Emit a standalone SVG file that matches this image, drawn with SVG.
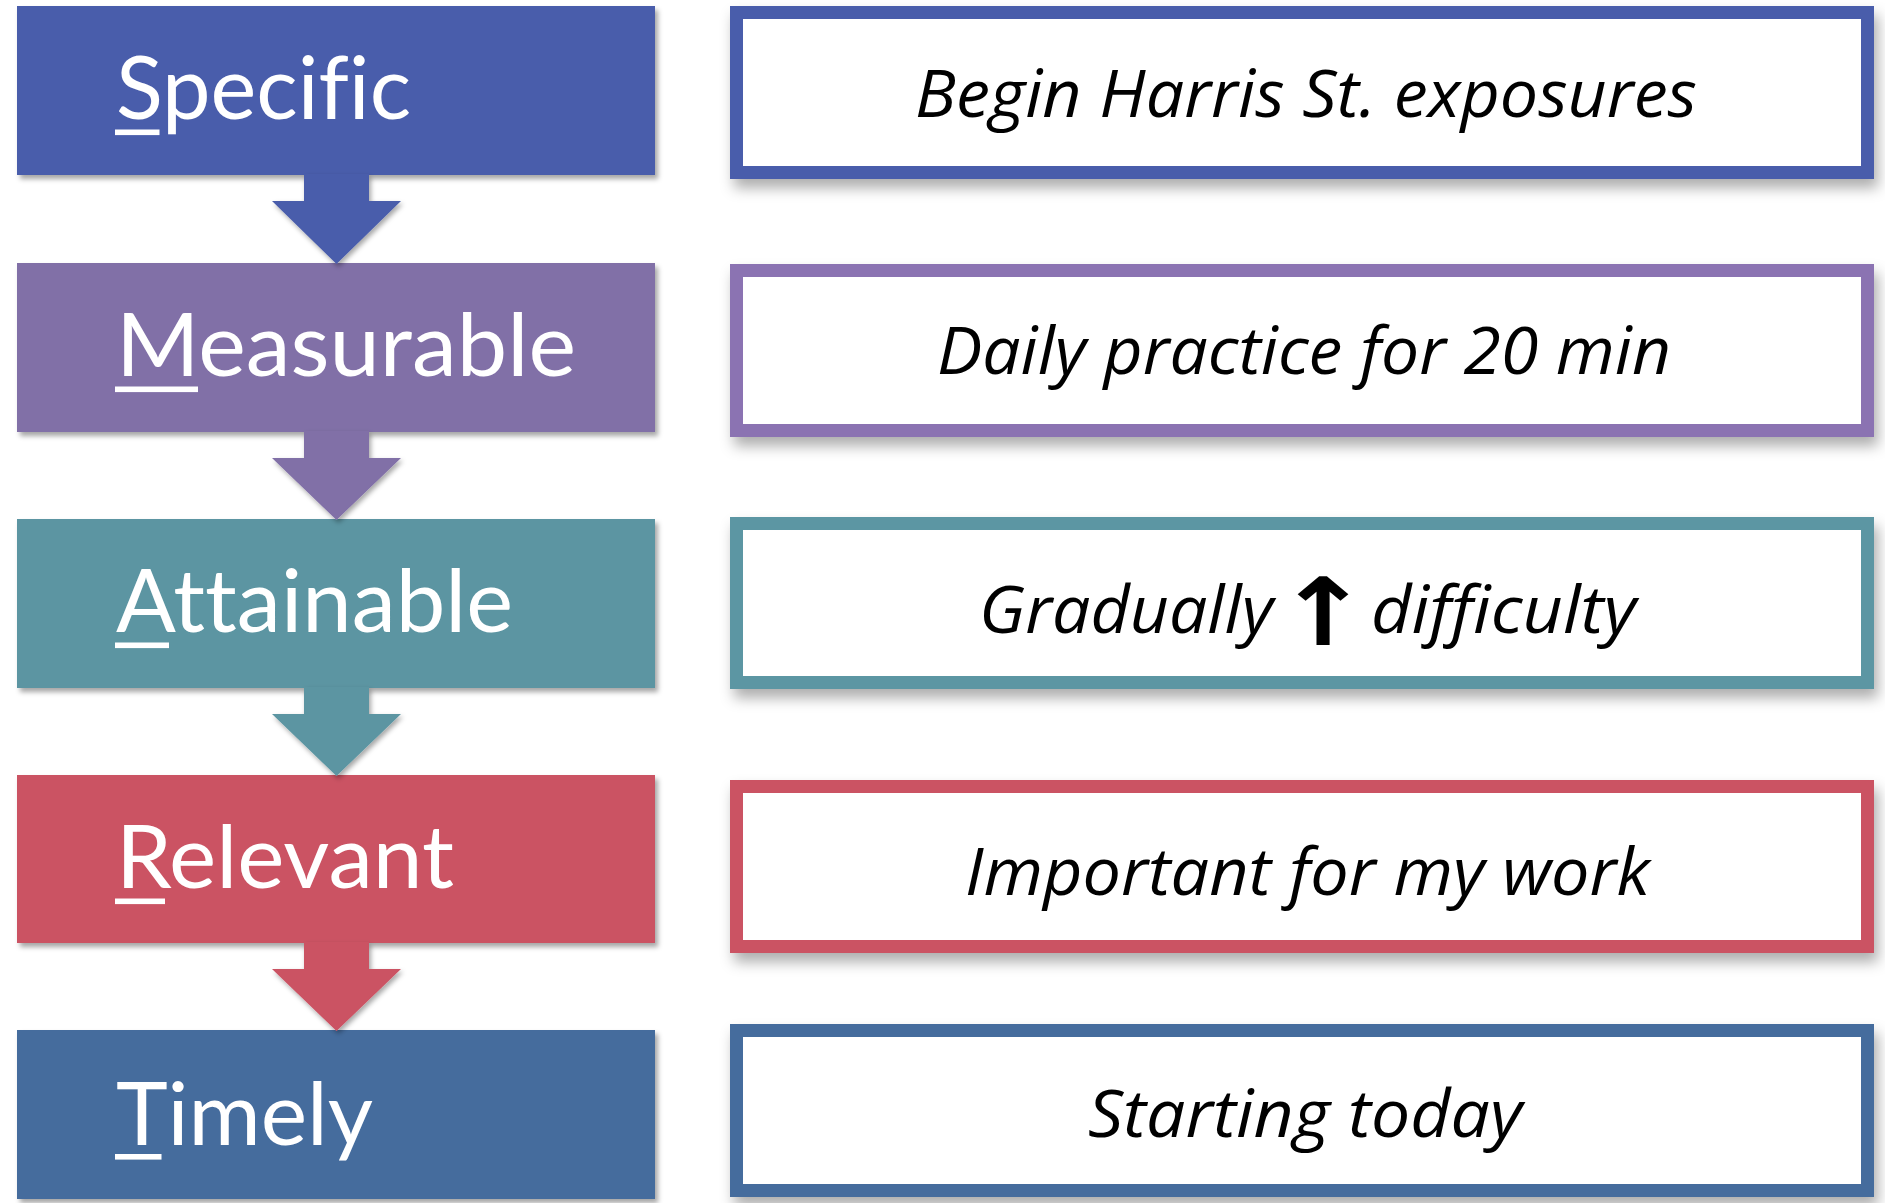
<svg xmlns="http://www.w3.org/2000/svg" width="1885" height="1203" viewBox="0 0 1885 1203">
<defs>
<filter id="shL" x="-5%" y="-10%" width="115%" height="130%">
<feDropShadow dx="3" dy="4" stdDeviation="2.5" flood-color="#000" flood-opacity="0.35"/>
</filter>
<filter id="shR" x="-5%" y="-20%" width="115%" height="150%">
<feDropShadow dx="4" dy="9" stdDeviation="7" flood-color="#000" flood-opacity="0.32"/>
</filter>
<filter id="shA" x="-20%" y="-10%" width="140%" height="130%">
<feDropShadow dx="2" dy="3" stdDeviation="2.5" flood-color="#000" flood-opacity="0.35"/>
</filter>
</defs>
<style>
text{font-variant-ligatures:none}
.lbl{font-family:Lato,"Open Sans","Liberation Sans",sans-serif;font-size:87px;fill:#fff}
.ul{fill:#fff}
.rbox{fill:#fff;stroke-width:13;filter:url(#shR)}
.lbox{filter:url(#shL)}
.desc{font-family:"Open Sans","Noto Sans","Liberation Sans",sans-serif;font-style:italic;font-size:66px;fill:#000}
.sym{font-family:"DejaVu Sans",sans-serif;font-style:normal;font-weight:bold;font-size:94px}
</style>
<rect width="1885" height="1203" fill="#fff"/>

<g id="specific">
<rect class="lbox" x="17" y="6" width="638" height="169" fill="#4A5DAB"/>
<text class="lbl" x="116" y="119" textLength="295" lengthAdjust="spacingAndGlyphs">Specific</text>
<rect class="ul" x="115" y="129.5" width="44.5" height="5.6"/>
</g>
<g id="measurable">
<rect class="lbox" x="17" y="263" width="638" height="169" fill="#8170A7"/>
<text class="lbl" x="116" y="376" textLength="460" lengthAdjust="spacingAndGlyphs">Measurable</text>
<rect class="ul" x="115" y="386.5" width="83" height="5.6"/>
</g>
<g id="attainable">
<rect class="lbox" x="17" y="519" width="638" height="169" fill="#5B95A2"/>
<text class="lbl" x="116" y="632" textLength="397" lengthAdjust="spacingAndGlyphs">Attainable</text>
<rect class="ul" x="115" y="642.5" width="54" height="5.6"/>
</g>
<g id="relevant">
<rect class="lbox" x="17" y="775" width="638" height="168" fill="#CB5364"/>
<text class="lbl" x="116" y="888" textLength="338" lengthAdjust="spacingAndGlyphs">Relevant</text>
<rect class="ul" x="115" y="898.5" width="50" height="5.6"/>
</g>
<g id="timely">
<rect class="lbox" x="17" y="1030" width="638" height="169" fill="#456C9D"/>
<text class="lbl" x="116" y="1145" textLength="257" lengthAdjust="spacingAndGlyphs">Timely</text>
<rect class="ul" x="115" y="1154" width="46.5" height="5.6"/>
</g>

<g id="connectors">
<polygon filter="url(#shA)" fill="#4A5DAB" points="304,174 369,174 369,201 401,201 336.5,264 272,201 304,201"/>
<polygon filter="url(#shA)" fill="#8170A7" points="304,431 369,431 369,458 401,458 336.5,520 272,458 304,458"/>
<polygon filter="url(#shA)" fill="#5B95A2" points="304,687 369,687 369,714 401,714 336.5,776 272,714 304,714"/>
<polygon filter="url(#shA)" fill="#CB5364" points="304,942 369,942 369,969 401,969 336.5,1031 272,969 304,969"/>
</g>

<g id="desc-specific">
<rect class="rbox" x="736.5" y="12.5" width="1131" height="160" stroke="#4A5DAB"/>
<text class="desc" x="915" y="117" textLength="782" lengthAdjust="spacingAndGlyphs">Begin Harris St. exposures</text>
</g>
<g id="desc-measurable">
<rect class="rbox" x="736.5" y="270.5" width="1131" height="160" stroke="#8B73B2"/>
<text class="desc" x="937" y="374" textLength="734" lengthAdjust="spacingAndGlyphs">Daily practice for 20 min</text>
</g>
<g id="desc-attainable">
<rect class="rbox" x="736.5" y="523.5" width="1131" height="159" stroke="#5B96A3"/>
<text class="desc" y="633"><tspan x="979" y="633" textLength="294" lengthAdjust="spacingAndGlyphs">Gradually</tspan><tspan class="sym" x="1276" y="645" textLength="94" lengthAdjust="spacingAndGlyphs">↑</tspan><tspan x="1371" y="633" textLength="265" lengthAdjust="spacingAndGlyphs">difficulty</tspan></text>
</g>
<g id="desc-relevant">
<rect class="rbox" x="736.5" y="786.5" width="1131" height="160" stroke="#CB5263"/>
<text class="desc" x="965" y="895" textLength="685" lengthAdjust="spacingAndGlyphs">Important for my work</text>
</g>
<g id="desc-timely">
<rect class="rbox" x="736.5" y="1030.5" width="1131" height="160" stroke="#456C9D"/>
<text class="desc" x="1088" y="1137" textLength="434" lengthAdjust="spacingAndGlyphs">Starting today</text>
</g>
</svg>
